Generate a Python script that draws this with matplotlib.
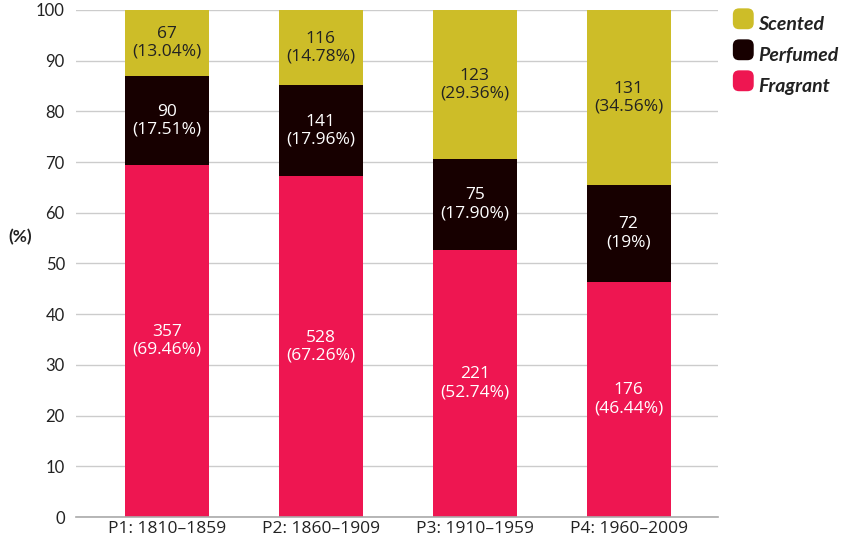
import matplotlib
matplotlib.use("Agg")
import matplotlib.pyplot as plt
from matplotlib.patches import FancyBboxPatch, Patch
from matplotlib.legend_handler import HandlerPatch

# periods and word counts per term
periods = ["P1: 1810\u20131859", "P2: 1860\u20131909", "P3: 1910\u20131959", "P4: 1960\u20132009"]
fragrant_n = [357, 528, 221, 176]
perfumed_n = [90, 141, 75, 72]
scented_n = [67, 116, 123, 131]
fragrant_pct = [69.46, 67.26, 52.74, 46.44]
perfumed_pct = [17.51, 17.96, 17.90, 19.0]
scented_pct = [13.04, 14.78, 29.36, 34.56]

c_fragrant = "#ee1651"
c_perfumed = "#170000"
c_scented = "#cdbd28"

plt.rcParams["font.family"] = ["Open Sans", "DejaVu Sans"]

fig = plt.figure(figsize=(8.48, 5.46), dpi=100)
ax = fig.add_axes([0.0896, 0.0531, 0.757, 0.9286])

x = range(len(periods))
w = 0.545


def fmt_pct(v):
    return f"({v:.0f}%)" if float(v).is_integer() else f"({v:.2f}%)"


series = [
    ("Fragrant", fragrant_n, fragrant_pct, c_fragrant, "white"),
    ("Perfumed", perfumed_n, perfumed_pct, c_perfumed, "white"),
    ("Scented", scented_n, scented_pct, c_scented, "#222222"),
]
bottom = [0.0] * len(periods)
for name, counts, pct, col, tcol in series:
    ax.bar(x, pct, w, bottom=bottom, color=col, label=name, zorder=3)
    for i in x:
        yc = bottom[i] + pct[i] / 2
        ax.text(i, yc, f"{counts[i]}\n{fmt_pct(pct[i])}", ha="center", va="center",
                color=tcol, fontsize=12.5, linespacing=1.15, zorder=4)
    bottom = [b + p for b, p in zip(bottom, pct)]

ax.set_xlim(-0.59, 3.58)
ax.set_ylim(0, 100)
ax.set_yticks(range(0, 101, 10))
ax.set_xticks(list(x))
ax.set_xticklabels(periods, fontsize=12.5, color="#222222")
ax.tick_params(axis="y", length=0, pad=8, labelsize=12, labelcolor="#222222")
ax.tick_params(axis="x", length=0, pad=3)
for lab in ax.get_yticklabels():
    lab.set_fontfamily(["Lato", "DejaVu Sans"])
ax.grid(axis="y", color="#cccccc", linewidth=1, zorder=0)
for s in ["top", "right", "left"]:
    ax.spines[s].set_visible(False)
ax.spines["bottom"].set_color("#aaaaaa")
ax.spines["bottom"].set_linewidth(1.2)
ax.spines["bottom"].set_zorder(5)

fig.text(0.01, 0.566, "(%)", fontsize=12.5, fontweight="bold", color="#222222",
         ha="left", va="center", family=["Lato", "DejaVu Sans"])


class RoundBox(HandlerPatch):
    def create_artists(self, legend, orig, xd, yd, width, height, fontsize, trans):
        s = min(width, height) * 1.2
        p = FancyBboxPatch((xd + (width - s) / 2, yd + (height - s) / 2), s, s,
                           boxstyle=f"round,pad=0,rounding_size={s * 0.3}",
                           facecolor=orig.get_facecolor(), edgecolor="none",
                           transform=trans)
        return [p]


handles = [Patch(facecolor=c_scented), Patch(facecolor=c_perfumed), Patch(facecolor=c_fragrant)]
leg = fig.legend(handles, ["Scented", "Perfumed", "Fragrant"],
                 loc="upper left", bbox_to_anchor=(0.849, 0.999), frameon=False,
                 handler_map={Patch: RoundBox()}, handlelength=1.0, handleheight=1.0,
                 handletextpad=0.25, labelspacing=0.65, borderaxespad=0.3,
                 prop={"size": 14, "weight": "bold", "style": "italic", "family": "Lato"})
for t in leg.get_texts():
    t.set_color("#222222")

fig.savefig("out.png", dpi=100)
